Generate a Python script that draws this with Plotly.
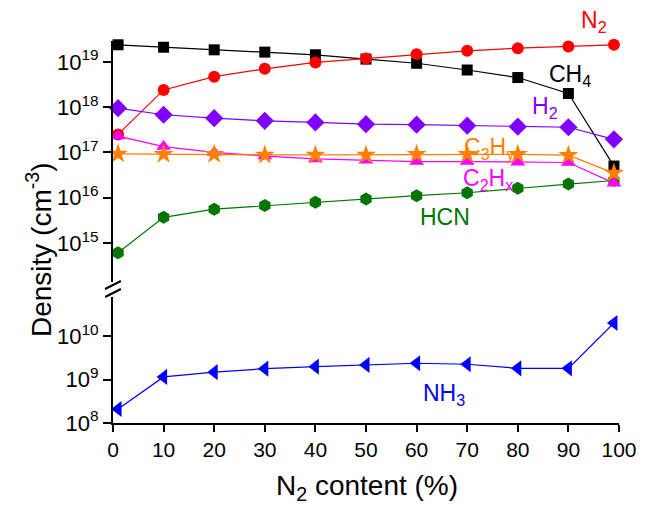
import math
import plotly.graph_objects as go

# ---------------- data ----------------
n2_content = [1, 10, 20, 30, 40, 50, 60, 70, 80, 90, 99]

ch4 = [2.38e19, 2.1e19, 1.84e19, 1.64e19, 1.43e19, 1.15e19, 9.3e18, 6.6e18, 4.5e18, 2.0e18, 5.0e16]
n2 = [2.5e17, 2.4e18, 4.7e18, 7.0e18, 9.7e18, 1.18e19, 1.48e19, 1.75e19, 2.0e19, 2.18e19, 2.38e19]
h2 = [9.5e17, 6.8e17, 5.7e17, 5.0e17, 4.6e17, 4.2e17, 4.1e17, 3.9e17, 3.7e17, 3.6e17, 1.95e17]
c2hx = [2.3e17, 1.35e17, 1.0e17, 8.3e16, 7.2e16, 6.7e16, 6.3e16, 6.3e16, 6.1e16, 6.0e16, 2.1e16]
c3hy = [9.3e16, 9.1e16, 9.1e16, 8.8e16, 8.8e16, 8.8e16, 9.1e16, 9.1e16, 9.1e16, 8.7e16, 3.5e16]
hcn = [6.1e14, 3.7e15, 5.6e15, 6.7e15, 8.0e15, 9.4e15, 1.11e16, 1.29e16, 1.62e16, 2.0e16, 2.4e16]
nh3 = [2.1e8, 1.15e9, 1.48e9, 1.78e9, 1.98e9, 2.17e9, 2.37e9, 2.25e9, 1.81e9, 1.81e9, 2.0e10]

x_ticks = [0, 10, 20, 30, 40, 50, 60, 70, 80, 90, 100]
x_minor = [5, 15, 25, 35, 45, 55, 65, 75, 85, 95]
upper_exps = [15, 16, 17, 18, 19]
lower_exps = [8, 9, 10]

# ---------------- layout geometry ----------------
W, H = 649, 506
L, R, T, B = 113, 23, 41, 83
PW, PH = W - L - R, H - T - B


def px(xp):
    return (xp - L) / PW


def py(yp):
    return (H - B - yp) / PH


upper_dom = [py(282), 1.0]
lower_dom = [0.0, py(297)]
UP_RANGE = [14.14, 19.46]
LO_RANGE = [8, 10.9]
X_RANGE = [0, 100]


def minor_vals(e0, e1, rng):
    out = []
    for e in range(e0, e1 + 1):
        for k in range(2, 10):
            v = k * 10.0 ** e
            if rng[0] <= math.log10(v) <= rng[1]:
                out.append(v)
    return out


fig = go.Figure()

series = [
    ("HCN", hcn, "#007500", "hexagon", 13),
    ("CH4", ch4, "#000000", "square", 11),
    ("N2", n2, "#FF0000", "circle", 12),
    ("H2", h2, "#7F00FF", "diamond", 14),
    ("C2Hx", c2hx, "#FF00FF", "triangle-up", 13),
    ("C3Hy", c3hy, "#FF7F00", "star", 15),
]
for name, vals, col, sym, sz in series:
    fig.add_trace(go.Scatter(
        x=n2_content, y=vals, xaxis="x2", yaxis="y", mode="lines+markers",
        line=dict(color=col, width=1.2),
        marker=dict(symbol=sym, size=sz, color=col, line=dict(width=0)),
        name=name, showlegend=False, cliponaxis=False))

fig.add_trace(go.Scatter(
    x=n2_content, y=nh3, xaxis="x", yaxis="y2", mode="lines+markers",
    line=dict(color="#0000FF", width=1.2),
    marker=dict(symbol="triangle-left", size=14, color="#0000FF", line=dict(width=0)),
    name="NH3", showlegend=False, cliponaxis=False))

# ---- minor tick marks, drawn as short line markers just outside the axes ----
x_per_px = (X_RANGE[1] - X_RANGE[0]) / PW
lo_dec_per_px = (LO_RANGE[1] - LO_RANGE[0]) / ((lower_dom[1] - lower_dom[0]) * PH)
up_minor = minor_vals(14, 19, UP_RANGE)
lo_minor = minor_vals(8, 10, LO_RANGE)
tick_marker = dict(symbol="line-ew-open", size=9, color="black", line=dict(width=1.6, color="black"))
fig.add_trace(go.Scatter(x=[X_RANGE[0] - 4 * x_per_px] * len(up_minor), y=up_minor,
                         xaxis="x2", yaxis="y", mode="markers", marker=tick_marker,
                         cliponaxis=False, showlegend=False, hoverinfo="skip"))
fig.add_trace(go.Scatter(x=[X_RANGE[0] - 4 * x_per_px] * len(lo_minor), y=lo_minor,
                         xaxis="x", yaxis="y2", mode="markers", marker=tick_marker,
                         cliponaxis=False, showlegend=False, hoverinfo="skip"))
fig.add_trace(go.Scatter(x=x_minor, y=[10 ** (LO_RANGE[0] - 4 * lo_dec_per_px)] * len(x_minor),
                         xaxis="x", yaxis="y2", mode="markers",
                         marker=dict(symbol="line-ns-open", size=8, color="black",
                                     line=dict(width=1.6, color="black")),
                         cliponaxis=False, showlegend=False, hoverinfo="skip"))

FONT = "Arial, Liberation Sans, sans-serif"
ytickfont = dict(family=FONT, size=22, color="black")

fig.update_layout(
    width=W, height=H,
    margin=dict(l=L, r=R, t=T, b=B),
    paper_bgcolor="white", plot_bgcolor="white",
    font=dict(family=FONT, color="black"),
    xaxis=dict(
        domain=[0, 1], anchor="y2", range=X_RANGE,
        tickvals=x_ticks, ticktext=[str(v) for v in x_ticks],
        ticks="outside", ticklen=7, tickwidth=1.5, tickcolor="black",
        showline=True, linecolor="black", linewidth=2, showgrid=False, zeroline=False,
        tickfont=dict(family=FONT, size=21, color="black"),
    ),
    xaxis2=dict(domain=[0, 1], anchor="y", matches="x", visible=False, range=X_RANGE),
    yaxis=dict(
        domain=upper_dom, anchor="x2", type="log", range=UP_RANGE,
        tickvals=[10 ** e for e in upper_exps],
        ticktext=["10<sup>%d</sup>" % e for e in upper_exps],
        ticks="outside", ticklen=8, tickwidth=1.8, tickcolor="black",
        showline=True, linecolor="black", linewidth=2, showgrid=False, zeroline=False,
        tickfont=ytickfont,
    ),
    yaxis2=dict(
        domain=lower_dom, anchor="x", type="log", range=LO_RANGE,
        tickvals=[10 ** e for e in lower_exps],
        ticktext=["10<sup>%d</sup>" % e for e in lower_exps],
        ticks="outside", ticklen=8, tickwidth=1.8, tickcolor="black",
        showline=True, linecolor="black", linewidth=2, showgrid=False, zeroline=False,
        tickfont=ytickfont,
    ),
)

# axis break marks
for (x0, y0, x1, y1) in [(105, 289, 121, 281), (105, 297, 121, 289)]:
    fig.add_shape(type="line", xref="paper", yref="paper", layer="above",
                  x0=px(x0), y0=py(y0), x1=px(x1), y1=py(y1),
                  line=dict(color="black", width=2))

# axis titles
fig.add_annotation(text="Density (cm<sup>-3</sup>)", xref="paper", yref="paper",
                   x=px(38), y=py(250), textangle=-90, showarrow=False,
                   xanchor="center", yanchor="middle",
                   font=dict(family=FONT, size=28, color="black"))
fig.add_annotation(text="N<sub>2</sub> content (%)", xref="paper", yref="paper",
                   x=px(371), y=py(487), showarrow=False,
                   xanchor="center", yanchor="middle",
                   font=dict(family=FONT, size=28, color="black"))

# series labels
labels = [
    ("N<sub>2</sub>", 601, 22, "#FF0000"),
    ("CH<sub>4</sub>", 576, 75, "#000000"),
    ("H<sub>2</sub>", 551, 107, "#7F00FF"),
    ("C<sub>3</sub>H<sub>y</sub>", 495, 148, "#FF7F00"),
    ("C<sub>2</sub>H<sub>x</sub>", 493, 179, "#FF00FF"),
    ("HCN", 450, 217, "#007500"),
    ("NH<sub>3</sub>", 449, 394, "#0000FF"),
]
for txt, xp, yp, col in labels:
    fig.add_annotation(text=txt, xref="paper", yref="paper", x=px(xp), y=py(yp),
                       showarrow=False, xanchor="center", yanchor="middle",
                       font=dict(family=FONT, size=23, color=col))

fig.write_html("out.html")
